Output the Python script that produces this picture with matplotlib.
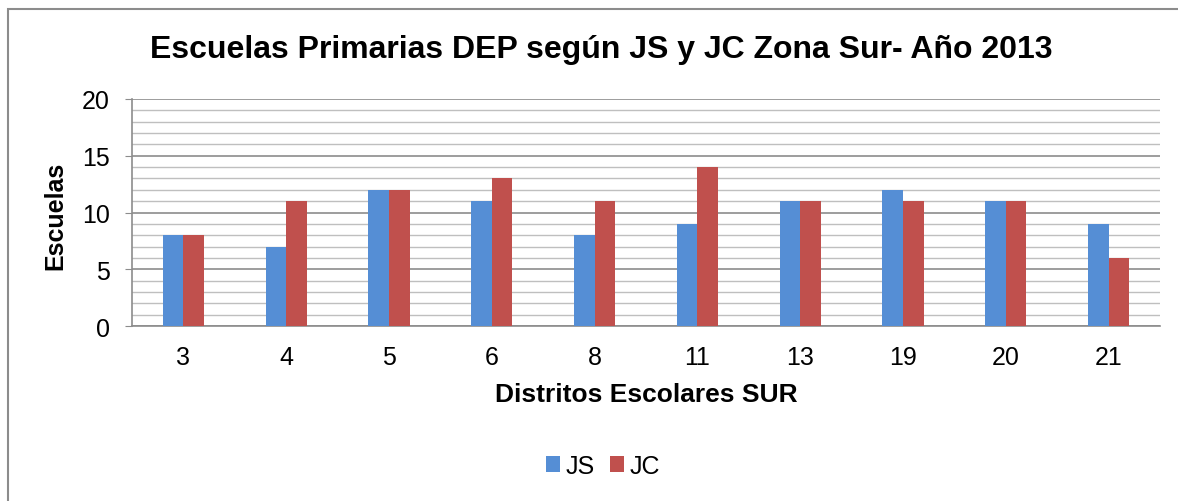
import matplotlib.pyplot as plt
import numpy as np
from matplotlib.patches import Rectangle

plt.rcParams['font.family'] = ['Liberation Sans', 'DejaVu Sans']

# datos
distritos = ['3', '4', '5', '6', '8', '11', '13', '19', '20', '21']
js = [8, 7, 12, 11, 8, 9, 11, 12, 11, 9]
jc = [8, 11, 12, 13, 11, 14, 11, 11, 11, 6]

fig = plt.figure(figsize=(11.78, 5.02), dpi=100)
ax = fig.add_axes([0.1121, 0.3486, 0.8726, 0.4522])

# marco del grafico
fig.patches.append(Rectangle((8 / 1178, -0.1), 1.2, 1 - 10 / 502 + 0.1,
                             transform=fig.transFigure, fill=False,
                             edgecolor='#8c8c8c', linewidth=1.5))

x = np.arange(len(distritos))
w = 0.2
ax.bar(x - w / 2, js, w, color='#558ED5', label='JS', zorder=3)
ax.bar(x + w / 2, jc, w, color='#C0504D', label='JC', zorder=3)

ax.set_xlim(-0.5, len(distritos) - 0.5)
ax.set_ylim(0, 20)
ax.set_yticks(range(0, 21, 5))
ax.set_yticks(range(0, 21), minor=True)
ax.set_xticks(x)
ax.set_xticklabels(distritos)
ax.grid(axis='y', which='major', color='#8c8c8c', linewidth=1.2, zorder=0)
ax.grid(axis='y', which='minor', color='#bfbfbf', linewidth=1.0, zorder=0)

for s in ['top', 'right']:
    ax.spines[s].set_visible(False)
for s in ['left', 'bottom']:
    ax.spines[s].set_color('#8c8c8c')
    ax.spines[s].set_linewidth(1.2)
ax.tick_params(axis='y', which='major', length=5, color='#8c8c8c', labelsize=18, pad=11)
ax.tick_params(axis='y', which='minor', length=0)
ax.tick_params(axis='x', length=0, labelsize=18, pad=14)

ax.set_xlabel('Distritos Escolares SUR', fontsize=19, fontweight='bold')
ax.set_ylabel('Escuelas', fontsize=18, fontweight='bold')
ax.xaxis.set_label_coords(0.5, -0.245)
ax.yaxis.set_label_coords(-0.063, 0.49)
fig.text(0.51, 0.9, 'Escuelas Primarias DEP según JS y JC Zona Sur- Año 2013',
         ha='center', va='center', fontsize=23, fontweight='bold')

fig.legend(loc='center', bbox_to_anchor=(0.512, 0.07), ncol=2, frameon=False,
           fontsize=18, handlelength=0.55, handleheight=0.55, handletextpad=0.25,
           columnspacing=0.6)

fig.savefig('out.png', dpi=100)
